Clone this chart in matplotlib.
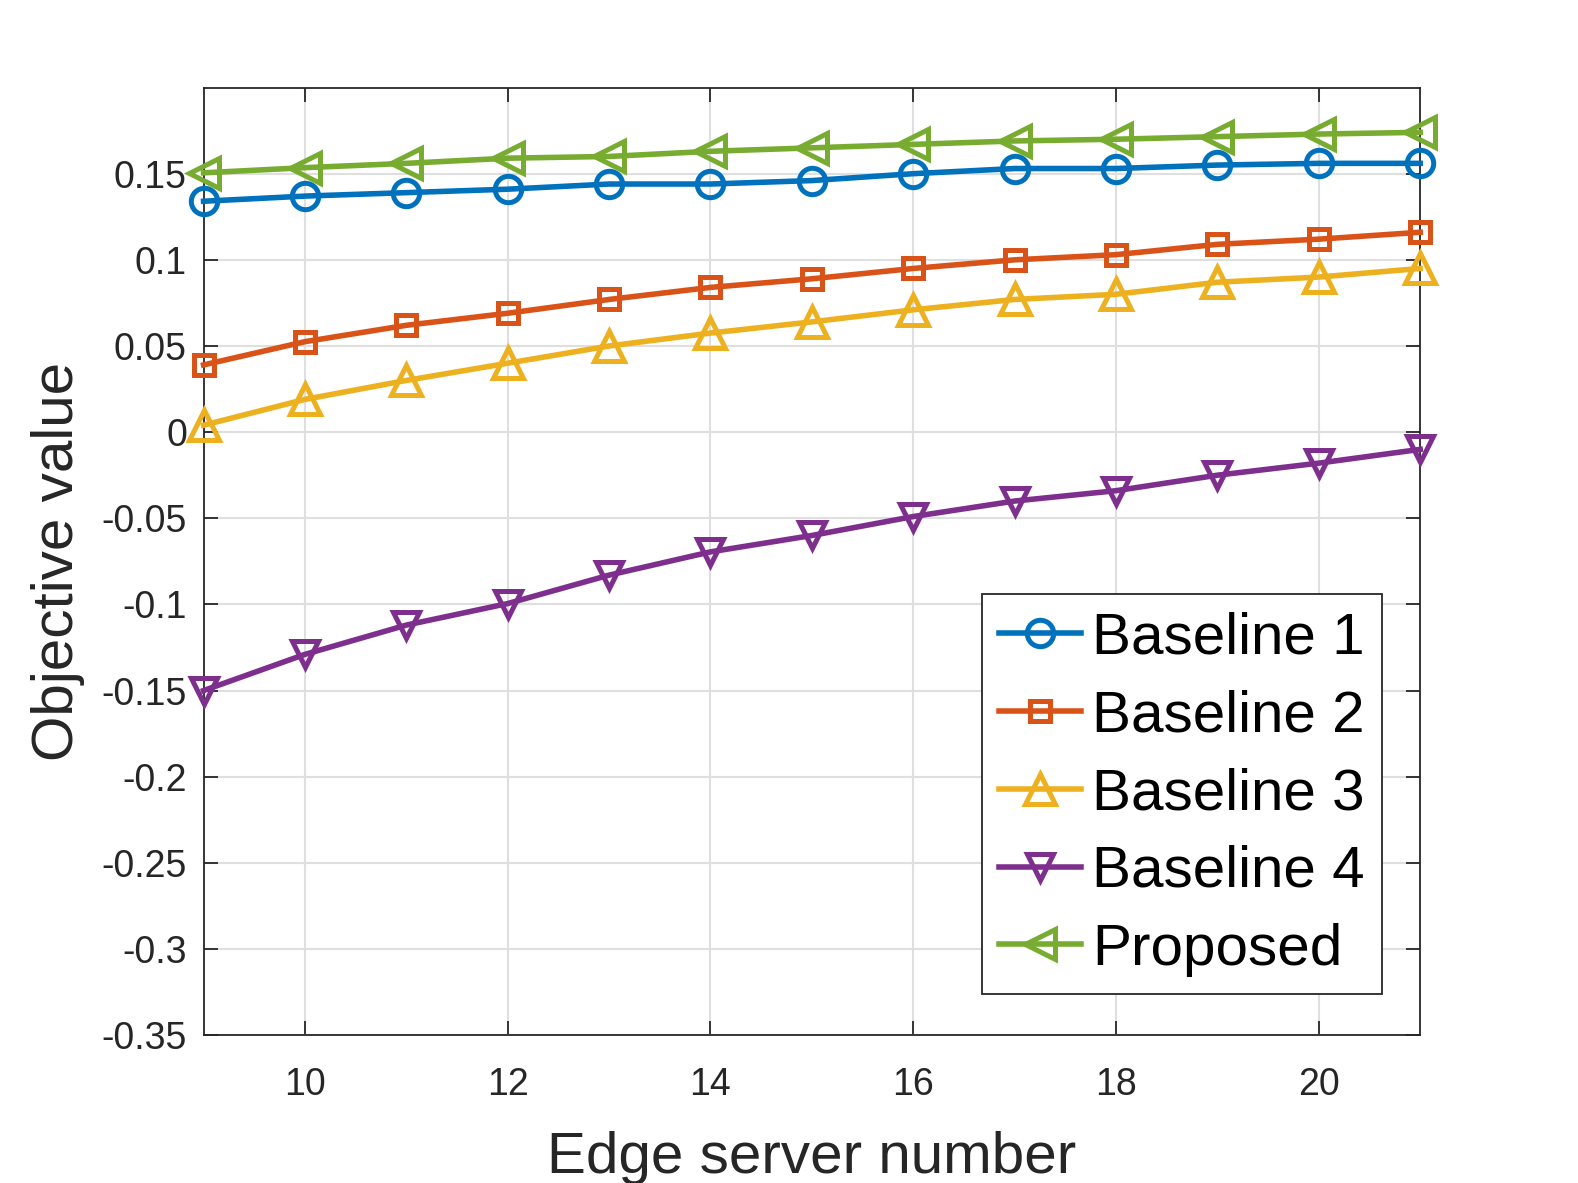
import numpy as np
import matplotlib
matplotlib.use('Agg')
import matplotlib.pyplot as plt

plt.rcParams['font.family'] = ['Liberation Sans', 'DejaVu Sans']

# edge server number on the x axis
servers = [9, 10, 11, 12, 13, 14, 15, 16, 17, 18, 19, 20, 21]

# objective value for each scheme
baseline1 = [0.134, 0.137, 0.139, 0.141, 0.144, 0.144, 0.146, 0.150, 0.153, 0.153, 0.155, 0.156, 0.156]
baseline2 = [0.039, 0.0525, 0.062, 0.069, 0.077, 0.084, 0.089, 0.095, 0.100, 0.103, 0.109, 0.112, 0.116]
baseline3 = [0.004, 0.019, 0.030, 0.040, 0.050, 0.0575, 0.064, 0.071, 0.077, 0.080, 0.087, 0.090, 0.095]
baseline4 = [-0.150, -0.129, -0.112, -0.0995, -0.083, -0.0695, -0.060, -0.049, -0.040, -0.034, -0.025, -0.018, -0.010]
proposed = [0.1505, 0.1535, 0.156, 0.159, 0.160, 0.163, 0.165, 0.167, 0.169, 0.170, 0.1715, 0.173, 0.174]

labels = ['Baseline 1', 'Baseline 2', 'Baseline 3', 'Baseline 4', 'Proposed']
y_ticks = [-0.35, -0.3, -0.25, -0.2, -0.15, -0.1, -0.05, 0, 0.05, 0.1, 0.15]
y_tick_labels = ['-0.35', '-0.3', '-0.25', '-0.2', '-0.15', '-0.1', '-0.05', '0', '0.05', '0.1', '0.15']
x_ticks = [10, 12, 14, 16, 18, 20]

fig = plt.figure(figsize=(15.78, 11.83), dpi=100)
ax = fig.add_axes([0.129, 0.125, 0.771, 0.801])

series = [baseline1, baseline2, baseline3, baseline4, proposed]
colors = ['#0072BD', '#D95319', '#EDB120', '#7E2F8E', '#77AC30']
markers = ['o', 's', '^', 'v', '<']
sizes = [19, 15, 21, 19, 21]

for vals, c, m, ms, lab in zip(series, colors, markers, sizes, labels):
    ax.plot(servers, vals, color=c, marker=m, markersize=ms, markerfacecolor='none',
            markeredgewidth=3.6, linewidth=4, label=lab, clip_on=False, zorder=3)

ax.set_xlim(9, 21)
ax.set_ylim(-0.35, 0.2)
ax.set_xticks(x_ticks)
ax.set_xticklabels([str(t) for t in x_ticks])
ax.set_yticks(y_ticks)
ax.set_yticklabels(y_tick_labels)

ax.grid(True, color='#dfdfdf', linewidth=1.5)
ax.set_axisbelow(True)
ax.tick_params(direction='in', length=10, width=1.3, labelsize=27, colors='#262626',
               top=True, right=True)
ax.tick_params(axis='x', pad=23)
ax.tick_params(axis='y', pad=12)
for s in ax.spines.values():
    s.set_color('#262626')
    s.set_linewidth(1.3)

ax.set_xlabel('Edge server number', fontsize=42, color='#262626', labelpad=20)
ax.set_ylabel('Objective value', fontsize=42, color='#262626', labelpad=12)

leg = ax.legend(loc='lower right', bbox_to_anchor=(0.969, 0.043), borderaxespad=0,
                fontsize=42, numpoints=1, handlelength=1.4, handletextpad=0.2,
                labelspacing=0.41, borderpad=0.3, fancybox=False, framealpha=1)
leg.get_frame().set_edgecolor('#262626')
leg.get_frame().set_linewidth(1.3)

fig.savefig('out.png', dpi=100)
